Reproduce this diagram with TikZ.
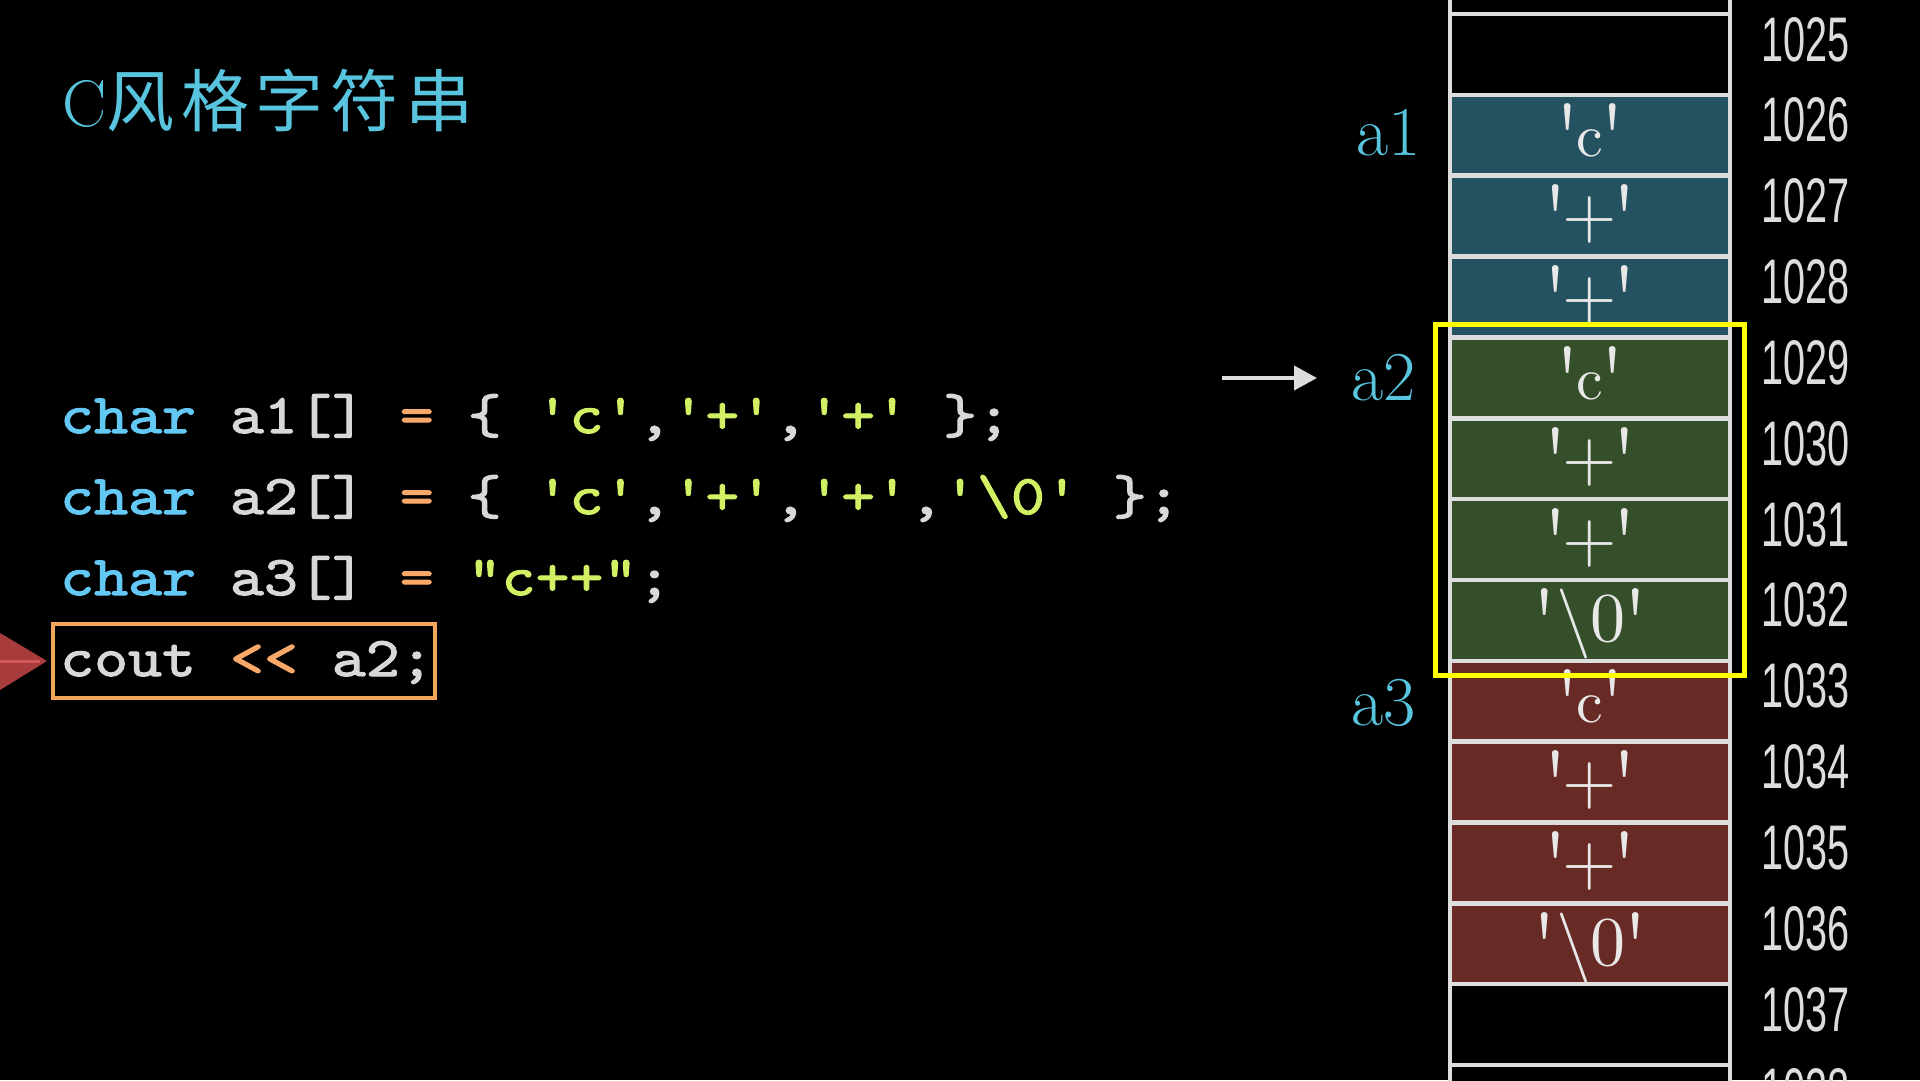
\documentclass[tikz,border=0pt]{standalone}
\usepackage{fontspec}
\usetikzlibrary{arrows.meta}
\newfontfamily\cjk[LetterSpace=10]{Noto Sans CJK SC}
\newfontfamily\codefont[FakeStretch=1.155,FakeBold=2,Ligatures=TeXOff]{lmmono10-regular.otf}
\newfontfamily\cellfont[Ligatures=TeXOff]{lmroman10-regular.otf}
\newfontfamily\numfont[FakeStretch=0.63]{Liberation Sans}
\definecolor{titlec}{HTML}{58C4DD}
\definecolor{kwc}{HTML}{64C8F5}
\definecolor{idc}{HTML}{D8D8D8}
\definecolor{opc}{HTML}{F8A868}
\definecolor{litc}{HTML}{D2F064}
\definecolor{boxc}{HTML}{F2A65A}
\definecolor{tealc}{HTML}{245260}
\definecolor{greenc}{HTML}{364F2B}
\definecolor{redc}{HTML}{682A24}
\definecolor{linec}{HTML}{DDDDDD}
\definecolor{cellt}{HTML}{E8E8E8}
\definecolor{redarrow}{HTML}{A83C3C}
\definecolor{redline}{HTML}{D05858}
\definecolor{hlc}{HTML}{FFFF00}
\newcommand\myq{\char"0027\relax}
\newcommand\kw[1]{\textcolor{kwc}{#1}}
\newcommand\lit[1]{\textcolor{litc}{#1}}
\newcommand\opr[1]{\textcolor{opc}{#1}}
\newcommand\cq{\raisebox{-14pt}{\fontsize{95}{95}\selectfont\char"0027\relax}}
\newcommand\vc{\cq\kern-4pt{\fontsize{60}{60}\selectfont c}\kern-4pt\cq}
\newcommand\vp{\cq\kern-6pt+\kern-6pt\cq}
\newcommand\vz{\cq\kern-2pt\textbackslash\kern-1pt 0\kern-3pt\cq}
\begin{document}
\begin{tikzpicture}[x=1pt,y=-1pt,
  codeline/.style={anchor=base west, inner sep=0, text=idc, font=\codefont\fontsize{56}{56}\selectfont},
  cellbox/.style={draw=linec, line width=4.5pt, minimum width=280pt, minimum height=80.85pt, inner sep=0},
  celltext/.style={anchor=base, inner sep=0, text=cellt, font=\cellfont\fontsize{70}{70}\selectfont},
  addr/.style={anchor=base west, inner sep=0, text=linec, font=\numfont\fontsize{63}{63}\selectfont},
  lbl/.style={anchor=base east, inner sep=0, text=titlec, font=\fontsize{70}{70}\selectfont},
  ptr/.style={draw=linec, line width=4pt, -{Triangle[length=23pt,width=24pt]}}
]
\fill[black] (0,0) rectangle (1920,1080);
\useasboundingbox (0,0) rectangle (1920,1080);
\clip (0,0) rectangle (1920,1080);

% title
\node[anchor=base west, inner sep=0, text=titlec] (title) at (62,126)
  {\fontsize{66}{66}\selectfont C{\cjk\fontsize{68}{68}\selectfont 风格字符串}};

% code
\node[codeline] (code1) at (60,433)
  {\kw{char} a1[] \opr{=} \{ \lit{\myq c\myq},\lit{\myq+\myq},\lit{\myq+\myq} \};};
\node[codeline] (code2) at (60,514)
  {\kw{char} a2[] \opr{=} \{ \lit{\myq c\myq},\lit{\myq+\myq},\lit{\myq+\myq},\lit{\myq\textbackslash 0\myq} \};};
\node[codeline] (code3) at (60,595)
  {\kw{char} a3[] \opr{=} \lit{\char"0022\relax c++\char"0022\relax};};
\node[codeline] (code4) at (60,676)
  {cout \opr{\mbox{<}\mbox{<}} a2;};
\node[draw=boxc, line width=4pt, minimum width=382pt, minimum height=74pt, inner sep=0] (coutbox) at (244,661) {};

% red pointer arrow at left
\fill[redarrow] (0,633) -- (47,661) -- (0,690) -- cycle;
\draw[redline, line width=3pt] (0,661) -- (40,661);

% memory cells
\foreach \k/\col/\txt in {-1/black/{}, 0/black/{}, 1/tealc/{\vc}, 2/tealc/{\vp}, 3/tealc/{\vp},
   4/greenc/{\vc}, 5/greenc/{\vp}, 6/greenc/{\vp}, 7/greenc/{\vz},
   8/redc/{\vc}, 9/redc/{\vp}, 10/redc/{\vp}, 11/redc/{\vz},
   12/black/{}, 13/black/{}}{
  \pgfmathsetmacro\ctop{14+80.85*\k}
  \pgfmathsetmacro\cmid{\ctop+40.425}
  \pgfmathsetmacro\cbase{\ctop+62}
  \node[cellbox, fill=\col] (cell\k) at (1590,\cmid) {};
  \node[celltext] (val\k) at (1590,\cbase) {\txt};
}
\foreach \k in {0,...,13}{
  \pgfmathsetmacro\abase{14+80.85*\k+47}
  \pgfmathtruncatemacro\adr{1025+\k}
  \node[addr] (addr\k) at (1761,\abase) {\adr};
}

% labels
\node[lbl] (a1lbl) at (1421,155) {a1};
\node[lbl] (a2lbl) at (1416,400) {a2};
\node[lbl] (a3lbl) at (1416,725) {a3};

% highlight
\node[draw=hlc, line width=5pt, minimum width=309pt, minimum height=351pt, inner sep=0] (hl) at (1589.5,499.5) {};

% pointer arrow
\coordinate (pstart) at (1222,378);
\coordinate (pend) at (1317,378);
\draw[ptr] (pstart) -- (pend);
\end{tikzpicture}
\end{document}
